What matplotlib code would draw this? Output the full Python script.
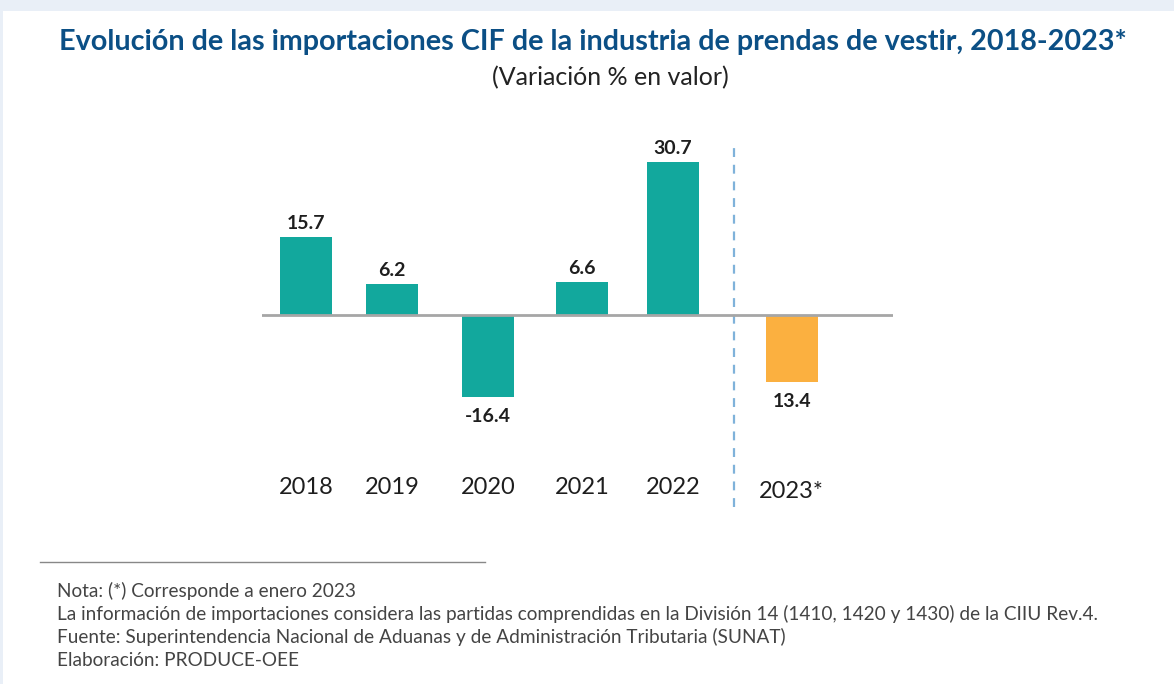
import matplotlib.pyplot as plt
from matplotlib.patches import Rectangle
from matplotlib.lines import Line2D

# data
years = ['2018', '2019', '2020', '2021', '2022', '2023*']
values = [15.7, 6.2, -16.4, 6.6, 30.7, -13.4]
value_labels = ['15.7', '6.2', '-16.4', '6.6', '30.7', '13.4']
bar_colors = ['#12a89d'] * 5 + ['#fbb040']

# layout (bar centres, slightly uneven as in the original)
xpos = [0, 0.935, 1.98, 3.0, 3.99, 5.28]
split_x = 4.65

W, H = 1174, 684
fig = plt.figure(figsize=(W / 100, H / 100), dpi=100)
fig.patch.set_facecolor('#e9eff7')
fig.patches.append(Rectangle((3 / W, 0), 1 - 3 / W, 1 - 11 / H, transform=fig.transFigure,
                             facecolor='white', edgecolor='none', zorder=-5))

# axes placed in pixel terms
ax_top, ax_bot = 130, 520
ax = fig.add_axes([262 / W, 1 - ax_bot / H, (893 - 262) / W, (ax_bot - ax_top) / H])
ax.set_facecolor('none')
scale = 5.0  # px per unit
ax.set_xlim(-44 / 92, (893 - 306) / 92)
ax.set_ylim(-(ax_bot - 315) / scale, (315 - ax_top) / scale)

ax.bar(xpos, values, width=0.56, color=bar_colors, zorder=2)
ax.axhline(0, color='#a6a6a6', lw=2, zorder=3)
ax.axvline(split_x, ymin=(ax_bot - 507) / (ax_bot - ax_top), ymax=(ax_bot - 143) / (ax_bot - ax_top),
           color='#7fb2da', lw=1.6, ls=(0, (4, 3.5)), zorder=1)

for x, v, lab in zip(xpos, values, value_labels):
    if v >= 0:
        ax.annotate(lab, (x, v), xytext=(0, 5.5), textcoords='offset points', ha='center', va='baseline',
                    fontsize=14, fontweight='bold', color='#1e1e1e', family='Lato')
    else:
        ax.annotate(lab, (x, v), xytext=(0, -8), textcoords='offset points', ha='center', va='top',
                    fontsize=14, fontweight='bold', color='#1e1e1e', family='Lato')

for i, (x, y) in enumerate(zip(xpos, years)):
    ypix = 492 if i == 5 else 488
    ax.text(x, -(ypix - 315) / scale, y, ha='center', va='center', fontsize=17,
            color='#1e1e1e', family='Lato')

ax.axis('off')

fig.text(593 / W, 1 - 42 / H, 'Evolución de las importaciones CIF de la industria de prendas de vestir, 2018-2023*',
         ha='center', va='center', fontsize=20.7, fontweight='bold', color='#0b4f85', family='Lato')
fig.text(610 / W, 1 - 78 / H, '(Variación % en valor)', ha='center', va='center', fontsize=18,
         color='#222222', family='Lato')

fig.add_artist(Line2D([40 / W, 485 / W], [1 - 562 / H, 1 - 562 / H], color='#888888', lw=1))
notes = [
    'Nota: (*) Corresponde a enero 2023',
    'La información de importaciones considera las partidas comprendidas en la División 14 (1410, 1420 y 1430) de la CIIU Rev.4.',
    'Fuente: Superintendencia Nacional de Aduanas y de Administración Tributaria (SUNAT)',
    'Elaboración: PRODUCE-OEE',
]
for i, line in enumerate(notes):
    fig.text(57 / W, 1 - (597 + 23 * i) / H, line, ha='left', va='baseline', fontsize=13.7,
             color='#444444', family='Lato')

fig.savefig('out.png', dpi=100)
